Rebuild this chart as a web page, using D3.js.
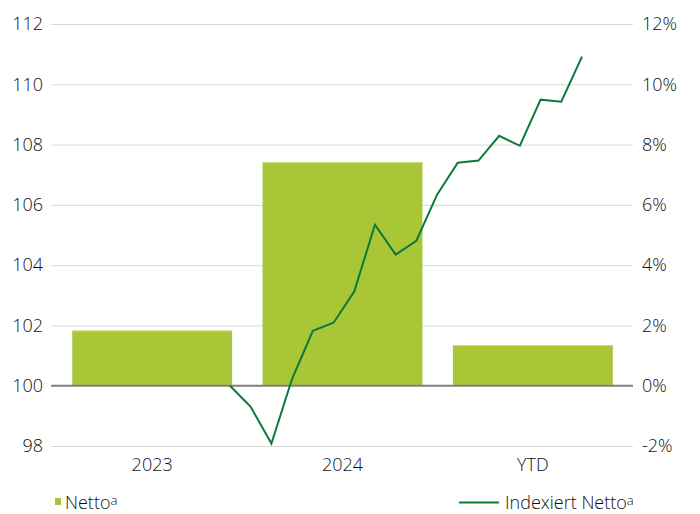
<!DOCTYPE html>
<html><head><meta charset="utf-8">
<script src="https://cdn.jsdelivr.net/npm/d3@7/dist/d3.min.js"></script>
<style>
html,body{margin:0;padding:0;background:#fff;}
text{font-family:"Open Sans","Noto Sans",sans-serif;font-weight:300;fill:#111;}
</style></head>
<body>
<svg id="c" width="700" height="514"></svg>
<script>
const categories = ["2023", "2024", "YTD"];
const nettoValues = [1.83, 7.42, 1.35]; // percent
const indexValues = [100, 99.30, 98.08, 100.23, 101.82, 102.09, 103.12, 105.34, 104.35, 104.81,
                     106.34, 107.40, 107.47, 108.29, 107.96, 109.49, 109.42, 110.92];
const leftTicks = [98, 100, 102, 104, 106, 108, 110, 112];
const rightTicks = [-2, 0, 2, 4, 6, 8, 10, 12];
const legendLabels = ["Netto", "Indexiert Netto"];

const FONT = "'Open Sans','Noto Sans',sans-serif";
const svg = d3.select("#c");
const gridLeft = 51, gridRight = 633;
const yL = d3.scaleLinear().domain([98, 112]).range([446, 24]);
const yR = d3.scaleLinear().domain([-2, 12]).range([446, 24]);
const x = d3.scaleBand().domain(categories).range([57, 628]).paddingInner(0.16).paddingOuter(0.08);
const xi = d3.scaleLinear().domain([0, indexValues.length - 1]).range([230, 582]);

// gridlines
svg.append("g").selectAll("line").data(leftTicks.filter(d => d !== 100)).join("line")
  .attr("x1", gridLeft).attr("x2", gridRight)
  .attr("y1", d => yL(d) + 0.5).attr("y2", d => yL(d) + 0.5)
  .attr("stroke", "#d9d9d9").attr("stroke-width", 1);

// bars
const barColor = "#a8c636";
svg.append("g").selectAll("rect").data(nettoValues).join("rect")
  .attr("x", (d, i) => x(categories[i]))
  .attr("width", x.bandwidth())
  .attr("y", d => yR(d))
  .attr("height", d => yR(0) - yR(d))
  .attr("fill", barColor);
svg.append("g").selectAll("line").data(nettoValues).join("line")
  .attr("x1", (d, i) => x(categories[i])).attr("x2", (d, i) => x(categories[i]) + x.bandwidth())
  .attr("y1", d => yR(d) + 0.5).attr("y2", d => yR(d) + 0.5)
  .attr("stroke", "#c9dc8a").attr("stroke-width", 1);

// baseline
svg.append("line").attr("x1", gridLeft).attr("x2", gridRight)
  .attr("y1", yL(100)).attr("y2", yL(100))
  .attr("stroke", "#7f7f7f").attr("stroke-width", 2);

// line
const lineColor = "#0b7a3b";
svg.append("path").datum(indexValues)
  .attr("d", d3.line().x((d, i) => xi(i)).y(d => yL(d)))
  .attr("fill", "none").attr("stroke", lineColor).attr("stroke-width", 2)
  .attr("stroke-linejoin", "miter");

function styleText(sel) {
  sel.attr("font-size", 18).attr("fill", "#111").attr("font-family", FONT).attr("font-weight", 300);
}

// left axis
const gl = svg.append("g").attr("transform", `translate(${gridLeft - 8},0)`)
  .call(d3.axisLeft(yL).tickValues(leftTicks).tickSize(0).tickPadding(0).tickFormat(d3.format("d")));
gl.select(".domain").remove();
styleText(gl.selectAll("text"));

// right axis
const gr = svg.append("g").attr("transform", `translate(${gridRight + 9},0)`)
  .call(d3.axisRight(yR).tickValues(rightTicks).tickSize(0).tickPadding(0).tickFormat(d => d + "%"));
gr.select(".domain").remove();
styleText(gr.selectAll("text"));

// x axis
const gx = svg.append("g").attr("transform", `translate(0,${yL(98) + 11})`)
  .call(d3.axisBottom(x).tickSize(0).tickPadding(0));
gx.select(".domain").remove();
styleText(gx.selectAll("text"));
gx.selectAll("text").attr("dy", "0.8em");

// legend
const lg = svg.append("g");
lg.append("rect").attr("x", 55).attr("y", 498).attr("width", 6).attr("height", 7).attr("fill", barColor);
const t1 = lg.append("text").attr("x", 65).attr("y", 509);
styleText(t1);
t1.append("tspan").text(legendLabels[0]);
t1.append("tspan").attr("font-size", 13).attr("dy", -4).text("a");
lg.append("line").attr("x1", 459).attr("x2", 499).attr("y1", 502.5).attr("y2", 502.5)
  .attr("stroke", lineColor).attr("stroke-width", 2);
const t2 = lg.append("text").attr("x", 505).attr("y", 509);
styleText(t2);
t2.append("tspan").text(legendLabels[1]);
t2.append("tspan").attr("font-size", 13).attr("dy", -4).text("a");
</script>
</body></html>
